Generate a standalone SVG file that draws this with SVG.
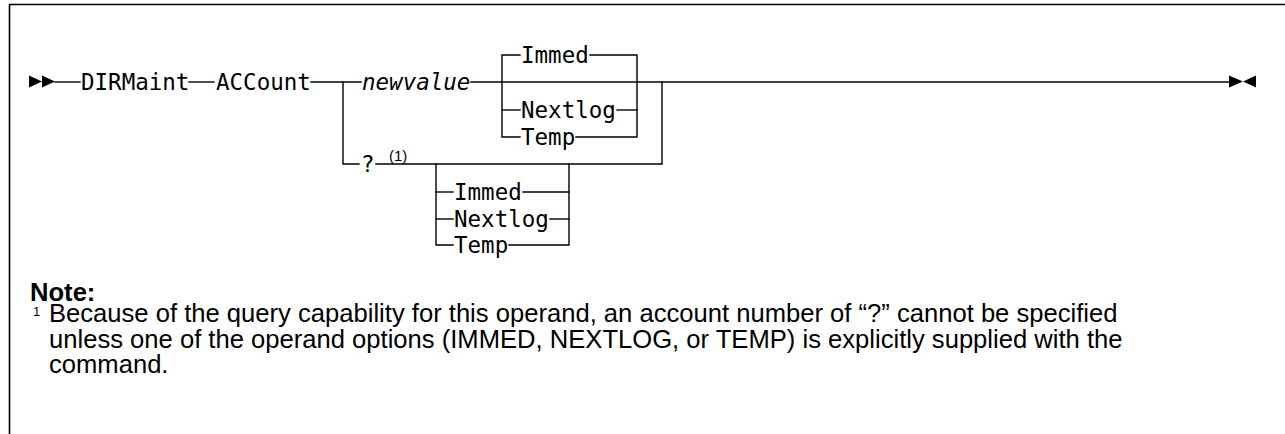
<svg xmlns="http://www.w3.org/2000/svg" width="1285" height="434" viewBox="0 0 1285 434">
<style>
.bg{fill:#fff}
.frame{stroke:#000;stroke-width:1.6;fill:none}
.ln{stroke:#000;stroke-width:1.4;fill:none;stroke-linecap:square}
.kw{font-family:"DejaVu Sans Mono","Liberation Mono",monospace;font-size:22.5px;fill:#000}
.var{font-family:"DejaVu Sans Mono","Liberation Mono",monospace;font-size:22.5px;font-style:italic;fill:#000}
.ref{font-family:"Liberation Sans",Arial,sans-serif;font-size:15px;fill:#000}
.sup{font-family:"Liberation Sans",Arial,sans-serif;font-size:13px;fill:#000}
.note{font-family:"Liberation Sans",Arial,sans-serif;font-size:25.6px;fill:#000}
.noteh{font-family:"Liberation Sans",Arial,sans-serif;font-size:25.6px;font-weight:bold;fill:#000}
.arr{fill:#000}
</style>
<rect class="bg" x="0" y="0" width="1285" height="434"/>
<path class="frame" d="M9.5,434 V4.5 H1285"/>

<g id="connectors">
  <path class="arr" d="M29,75.5 L42,81.5 L29,87.5 Z M42,75.5 L55,81.5 L42,87.5 Z"/>
  <path class="arr" d="M1229,75.5 L1243,81.5 L1229,87.5 Z M1256,75.5 L1243,81.5 L1256,87.5 Z"/>
  <path class="ln" d="M55,82 H80"/>
  <path class="ln" d="M189,82 H214"/>
  <path class="ln" d="M311,82 H361"/>
  <path class="ln" d="M471,82 H1229"/>
  <path class="ln" d="M343,82 V164 H359"/>
  <path class="ln" d="M376,164 H662 V82"/>
  <path class="ln" d="M520,55 H502 V137 H520"/>
  <path class="ln" d="M502,110 H520"/>
  <path class="ln" d="M590,55 H637 V137 H576"/>
  <path class="ln" d="M617,110 H637"/>
  <path class="ln" d="M436,164 V245 H453"/>
  <path class="ln" d="M436,192 H453"/>
  <path class="ln" d="M436,219 H453"/>
  <path class="ln" d="M523,192 H569"/>
  <path class="ln" d="M550,219 H569"/>
  <path class="ln" d="M509,245 H569 V164"/>
</g>

<g id="node-dirmaint"><text class="kw" x="81" y="90">DIRMaint</text></g>
<g id="node-account"><text class="kw" x="216" y="90">ACCount</text></g>
<g id="node-newvalue"><text class="var" x="362" y="90">newvalue</text></g>
<g id="node-query"><text class="kw" x="361" y="172">?</text><text class="ref" x="389" y="161">(1)</text></g>
<g id="node-immed1"><text class="kw" x="521" y="63">Immed</text></g>
<g id="node-nextlog1"><text class="kw" x="521" y="118">Nextlog</text></g>
<g id="node-temp1"><text class="kw" x="521" y="145">Temp</text></g>
<g id="node-immed2"><text class="kw" x="454" y="200">Immed</text></g>
<g id="node-nextlog2"><text class="kw" x="454" y="227">Nextlog</text></g>
<g id="node-temp2"><text class="kw" x="454" y="253">Temp</text></g>

<g id="note">
  <text class="noteh" x="30" y="301">Note:</text>
  <text class="sup" x="33" y="316">1</text>
  <text class="note" x="49" y="322">Because of the query capability for this operand, an account number of “?” cannot be specified</text>
  <text class="note" x="49" y="348">unless one of the operand options (IMMED, NEXTLOG, or TEMP) is explicitly supplied with the</text>
  <text class="note" x="49" y="373">command.</text>
</g>
</svg>
